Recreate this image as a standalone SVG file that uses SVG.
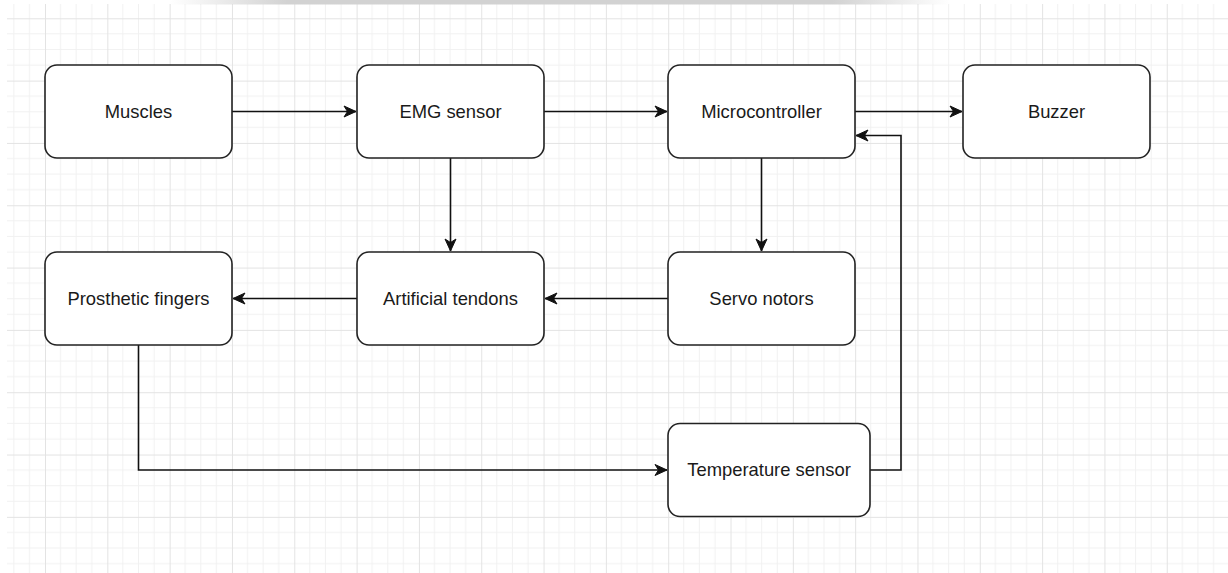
<svg xmlns="http://www.w3.org/2000/svg" width="1228" height="573" viewBox="0 0 1228 573">
<style>
.node rect{fill:#fff;stroke:#222;stroke-width:1.6}
.node text{font-family:"Liberation Sans",Arial,sans-serif;font-size:18.4px;fill:#1a1a1a;text-anchor:middle}
.conn path{fill:none;stroke:#111;stroke-width:1.6}
</style>
<defs>
<pattern id="grid" patternUnits="userSpaceOnUse" x="45" y="18.3" width="62.32" height="62.32">
<path d="M15.58 0V62.32M31.16 0V62.32M46.74 0V62.32M0 15.58H62.32M0 31.16H62.32M0 46.74H62.32" stroke="#f1f1f1" stroke-width="1"/>
<path d="M0.5 0V62.32M0 0.5H62.32" stroke="#e3e3e3" stroke-width="1"/>
</pattern>
<linearGradient id="bar" x1="0" x2="1" y1="0" y2="0">
<stop offset="0" stop-color="#d2d2d2" stop-opacity="0"/>
<stop offset="0.15" stop-color="#d2d2d2"/>
<stop offset="0.85" stop-color="#d2d2d2"/>
<stop offset="1" stop-color="#d2d2d2" stop-opacity="0"/>
</linearGradient>
<marker id="arr" markerUnits="userSpaceOnUse" markerWidth="16" markerHeight="16" viewBox="0 0 16 16" refX="13" refY="8" orient="auto">
<path d="M1 2.5 L13 8 L1 13.5 L4.5 8 Z" fill="#111" stroke="#111" stroke-width="1"/>
</marker>
</defs>
<rect width="1228" height="573" fill="#fff"/>
<rect x="7" y="4" width="1221" height="569" fill="url(#grid)"/>
<rect x="170" y="0" width="780" height="4.5" fill="url(#bar)"/>
<g class="conn" id="connectors">
<path d="M232 111.5H356" marker-end="url(#arr)"/>
<path d="M544 111.5H667" marker-end="url(#arr)"/>
<path d="M855 111.5H962" marker-end="url(#arr)"/>
<path d="M450.5 158V251" marker-end="url(#arr)"/>
<path d="M761.5 158V251" marker-end="url(#arr)"/>
<path d="M668 298.5H545" marker-end="url(#arr)"/>
<path d="M357 298.5H233" marker-end="url(#arr)"/>
<path d="M138.5 345V470H667" marker-end="url(#arr)"/>
<path d="M870 470H901V135.5H856" marker-end="url(#arr)"/>
</g>
<g class="node" id="muscles"><rect x="45" y="65" width="187" height="93" rx="12"/><text x="138.5" y="117.5">Muscles</text></g>
<g class="node" id="emg"><rect x="357" y="65" width="187" height="93" rx="12"/><text x="450.5" y="117.5">EMG sensor</text></g>
<g class="node" id="micro"><rect x="668" y="65" width="187" height="93" rx="12"/><text x="761.5" y="117.5">Microcontroller</text></g>
<g class="node" id="buzzer"><rect x="963" y="65" width="187" height="93" rx="12"/><text x="1056.5" y="117.5">Buzzer</text></g>
<g class="node" id="fingers"><rect x="45" y="252" width="187" height="93" rx="12"/><text x="138.5" y="304.5">Prosthetic fingers</text></g>
<g class="node" id="tendons"><rect x="357" y="252" width="187" height="93" rx="12"/><text x="450.5" y="304.5">Artificial tendons</text></g>
<g class="node" id="servo"><rect x="668" y="252" width="187" height="93" rx="12"/><text x="761.5" y="304.5">Servo notors</text></g>
<g class="node" id="temp"><rect x="668" y="423.5" width="202" height="93" rx="12"/><text x="769" y="476">Temperature sensor</text></g>
</svg>
